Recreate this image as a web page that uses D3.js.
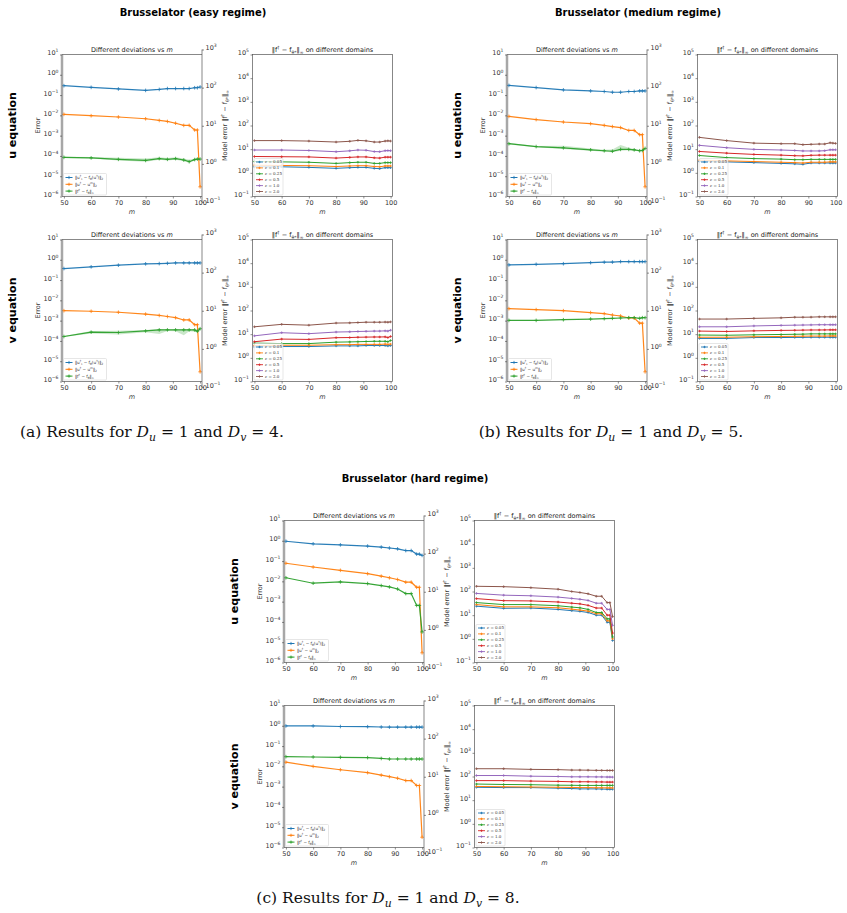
<!DOCTYPE html>
<html>
<head>
<meta charset="utf-8">
<script src="https://cdn.jsdelivr.net/npm/d3@7"></script>
<style>
  body { margin: 0; background: #fff; }
  svg { display: block; font-family: "DejaVu Sans", sans-serif; }
  .tick text { fill: #333; font-size: 6.5px; font-family: "DejaVu Sans", sans-serif; }
  .tick line { stroke: #444; stroke-width: 0.6; }
  .axis path { display: none; }
</style>
</head>
<body>
<svg id="fig" width="847" height="913"></svg>
<script>
// ---- data ----
const mVals = [50, 60, 70, 80, 85, 88, 91, 94, 96, 98, 99, 100];
const xTicks = [50, 60, 70, 80, 90, 100];
const devColors = ["#1f77b4", "#ff7f0e", "#2ca02c"];
const epsColors = ["#1f77b4", "#ff7f0e", "#2ca02c", "#d62728", "#9467bd", "#8c564b"];
const epsValues = ["0.05", "0.1", "0.25", "0.5", "1.0", "2.0"];

// left panels: [residual, interpolation, fit] per row
const easyU_dev = [
  [0.29, 0.24, 0.20, 0.17, 0.19, 0.21, 0.21, 0.21, 0.21, 0.23, 0.23, 0.25],
  [0.0112, 0.0096, 0.0083, 0.0068, 0.0056, 0.005, 0.0041, 0.0032, 0.0032, 0.0019, 0.0019, 3e-6],
  [8.5e-5, 8e-5, 6.8e-5, 6e-5, 7.4e-5, 6.8e-5, 7.4e-5, 6.3e-5, 5.2e-5, 6.6e-5, 7e-5, 7e-5]
];
const easyV_dev = [
  [0.37, 0.45, 0.54, 0.63, 0.65, 0.67, 0.7, 0.7, 0.7, 0.7, 0.7, 0.7],
  [0.0031, 0.0029, 0.0026, 0.0021, 0.0018, 0.0016, 0.0014, 0.00108, 0.00108, 0.00063, 0.00063, 3e-6],
  [1.65e-4, 2.7e-4, 2.6e-4, 3.1e-4, 3.5e-4, 3.5e-4, 3.5e-4, 3.5e-4, 3.5e-4, 3.5e-4, 3e-4, 4e-4]
];
const mediumU_dev = [
  [0.3, 0.235, 0.18, 0.16, 0.15, 0.138, 0.138, 0.15, 0.15, 0.16, 0.16, 0.16],
  [0.0089, 0.0062, 0.0047, 0.0039, 0.0032, 0.0028, 0.0025, 0.0018, 0.0018, 0.00112, 0.00112, 3e-6],
  [4e-4, 2.9e-4, 2.5e-4, 2.0e-4, 1.8e-4, 1.7e-4, 2.1e-4, 2.1e-4, 2e-4, 1.8e-4, 1.85e-4, 2.35e-4]
];
const mediumV_dev = [
  [0.56, 0.6, 0.64, 0.72, 0.76, 0.77, 0.81, 0.81, 0.81, 0.81, 0.81, 0.81],
  [0.0039, 0.0035, 0.0031, 0.0025, 0.0022, 0.0019, 0.0017, 0.00135, 0.00135, 0.00075, 0.00075, 3e-6],
  [0.00103, 0.00103, 0.00111, 0.0012, 0.00125, 0.0013, 0.00135, 0.0014, 0.0014, 0.0013, 0.0014, 0.0014]
];
const hardU_dev = [
  [0.95, 0.71, 0.63, 0.55, 0.49, 0.44, 0.4, 0.33, 0.33, 0.22, 0.22, 0.19],
  [0.078, 0.051, 0.035, 0.024, 0.018, 0.015, 0.0123, 0.0091, 0.0091, 0.0051, 0.0051, 3e-6],
  [0.015, 0.0081, 0.0094, 0.0078, 0.0062, 0.0053, 0.0042, 0.0025, 0.0025, 0.00065, 0.00065, 3.2e-5]
];
const hardV_dev = [
  [0.98, 0.98, 0.92, 0.9, 0.87, 0.86, 0.86, 0.86, 0.86, 0.86, 0.86, 0.86],
  [0.016, 0.01, 0.0068, 0.0049, 0.0037, 0.0031, 0.0026, 0.002, 0.002, 0.00114, 0.00114, 3.2e-6],
  [0.030, 0.029, 0.028, 0.027, 0.0245, 0.023, 0.023, 0.023, 0.023, 0.023, 0.023, 0.023]
];

// shaded spread of the fit curve (green) where it is visible: [low, high]
const easyU_fitBand = [
  [8e-5, 7.5e-5, 6e-5, 5.2e-5, 6.5e-5, 6e-5, 6.5e-5, 5.5e-5, 4.8e-5, 6e-5, 6.5e-5, 6.5e-5],
  [9e-5, 8.8e-5, 8.2e-5, 7.5e-5, 8.5e-5, 8e-5, 8.5e-5, 7.5e-5, 6.5e-5, 7.5e-5, 7.5e-5, 7.5e-5]
];
const easyV_fitBand = [
  [1.55e-4, 2.3e-4, 2.1e-4, 2.7e-4, 2.2e-4, 3.1e-4, 3e-4, 1.9e-4, 3e-4, 2.8e-4, 2.6e-4, 3.6e-4],
  [1.75e-4, 3.1e-4, 3.2e-4, 3.5e-4, 3.9e-4, 3.8e-4, 3.8e-4, 3.8e-4, 3.8e-4, 3.7e-4, 3.3e-4, 4.3e-4]
];
const mediumU_fitBand = [
  [3.7e-4, 2.7e-4, 2.2e-4, 1.8e-4, 1.6e-4, 1.5e-4, 1.8e-4, 1.9e-4, 1.8e-4, 1.7e-4, 1.75e-4, 2.2e-4],
  [4.3e-4, 3.1e-4, 3.2e-4, 2.3e-4, 2.0e-4, 2.1e-4, 3.5e-4, 2.5e-4, 2.2e-4, 2.0e-4, 2.0e-4, 2.5e-4]
];

// right panels: one curve per epsilon (0.05 ... 2.0)
const easyU_dom = [
  [1.8, 1.8, 1.7, 1.55, 1.65, 1.7, 1.7, 1.55, 1.5, 1.65, 1.65, 1.65],
  [2.1, 2.05, 2.0, 1.85, 1.95, 2.0, 2.0, 1.85, 1.8, 1.95, 1.95, 1.95],
  [3.0, 2.9, 2.8, 2.5, 2.7, 2.8, 2.8, 2.5, 2.5, 2.7, 2.7, 2.7],
  [4.9, 4.8, 4.7, 4.2, 4.5, 4.7, 4.7, 4.3, 4.2, 4.6, 4.6, 4.6],
  [9.2, 9.2, 8.8, 7.8, 8.5, 9.2, 9.0, 7.9, 7.8, 8.6, 8.7, 8.6],
  [23, 23, 22, 20, 21.5, 23.5, 22.5, 20, 20, 22, 22.5, 22]
];
const easyV_dom = [
  [2.9, 3.0, 3.0, 3.2, 3.2, 3.2, 3.3, 3.3, 3.3, 3.3, 3.2, 3.3],
  [3.3, 3.4, 3.4, 3.6, 3.6, 3.7, 3.7, 3.7, 3.7, 3.8, 3.7, 3.8],
  [4.2, 4.0, 4.0, 4.6, 4.7, 4.8, 4.9, 5.0, 5.0, 5.0, 4.8, 5.4],
  [4.8, 6.2, 6.0, 7.1, 7.2, 7.4, 7.5, 7.6, 7.6, 7.7, 7.2, 8.0],
  [8.5, 11.5, 10.5, 12.3, 12.6, 13, 13.2, 13.5, 13.5, 13.8, 13.5, 14.7],
  [20.5, 26, 24, 29.5, 30, 31, 32, 32, 32, 32.5, 32, 33]
];
const mediumU_dom = [
  [3.0, 2.9, 2.7, 2.5, 2.4, 2.3, 2.6, 2.6, 2.6, 2.6, 2.6, 2.6],
  [3.4, 3.2, 3.0, 2.8, 2.7, 2.6, 2.8, 2.8, 2.8, 2.9, 2.9, 2.9],
  [5.4, 4.4, 4.0, 3.8, 3.6, 3.6, 3.7, 3.7, 3.7, 3.7, 3.7, 3.7],
  [8.0, 6.8, 6.0, 5.6, 5.3, 5.2, 5.5, 5.6, 5.6, 5.6, 5.6, 5.6],
  [14.5, 11.5, 9.8, 9.2, 8.8, 8.4, 8.4, 8.4, 8.6, 9.4, 9.4, 9.4],
  [31.5, 23, 18, 17, 17, 15.5, 16, 16.5, 16.5, 18.6, 18, 17.5]
];
const mediumV_dom = [
  [6.6, 6.6, 7.2, 7.2, 7.3, 7.3, 7.4, 7.4, 7.4, 7.4, 7.4, 7.4],
  [7.4, 7.4, 7.8, 8.0, 8.1, 8.2, 8.3, 8.3, 8.3, 8.4, 8.4, 8.4],
  [9.2, 9.0, 9.4, 9.7, 9.9, 10.0, 10.3, 10.3, 10.3, 10.3, 10.3, 10.3],
  [13.5, 13.0, 13.8, 14.4, 14.6, 14.8, 15, 15, 15.1, 15.2, 15.2, 15.2],
  [20.5, 20.5, 22.3, 23.5, 24, 24.3, 24.6, 25, 25, 25, 25, 25],
  [43.5, 43.5, 46.5, 49, 52, 52, 52.5, 54, 54, 54, 54, 54]
];
const hardU_dom = [
  [24, 19.5, 20, 17.5, 15.5, 14.5, 13, 10, 10, 5, 5, 0.85],
  [28, 22.5, 22.5, 20.5, 18, 16.5, 14.8, 11.5, 11.5, 5.8, 5.8, 1.0],
  [34, 28, 28, 25, 22, 20.5, 17.5, 13, 13, 7, 7, 1.2],
  [50, 41, 40, 36, 32, 30, 26, 20, 20, 10, 10, 1.75],
  [83, 70, 66, 58, 51, 47, 42, 32, 32, 17.5, 17.5, 3.7],
  [166, 160, 145, 125, 100, 91, 80, 63, 63, 34, 34, 8.7]
];
const hardV_dom = [
  [35, 34, 34, 32, 31, 30, 30, 30, 29.5, 29, 29, 29],
  [38, 37, 36, 35, 34.5, 34, 34, 33.5, 33.5, 33, 33, 33],
  [48, 46, 45, 43, 42.5, 42, 42, 42, 42, 42, 42, 42],
  [67, 67, 64, 62, 60, 60, 60, 59, 59, 58, 58, 58],
  [110, 110, 103, 100, 97, 97, 97, 96, 96, 95, 95, 94],
  [213, 213, 200, 195, 187, 187, 185, 182, 181, 180, 180, 180]
];

// ---- text helpers ----
// parts: [string, flags] with flags containing "sup", "sub", "i"
function rich(text, parts, fs) {
  let shift = 0;
  parts.forEach(function (p) {
    const s = p[0], f = p[1] || "";
    const target = f.includes("sup") ? -0.42 * fs : f.includes("sub") ? 0.28 * fs : 0;
    const ts = text.append("tspan").text(s).attr("dy", target - shift);
    if (f.includes("sup") || f.includes("sub")) ts.attr("font-size", 0.7 * fs);
    if (f.includes("i")) ts.attr("font-style", "italic");
    shift = target;
  });
}

function decadeLabel(sel) {
  sel.each(function (d) {
    const t = d3.select(this).text(null);
    const e = Math.round(Math.log10(d));
    rich(t, [["10"], [e < 0 ? "\u2212" + (-e) : String(e), "sup"]], 6.5);
  });
}

const modelErr = [["\u2016f"], ["\u2020", "sup"], [" \u2212 f"], ["\u03b8*", "sub"], ["\u2016"], ["\u221e", "sub"]];
const devLabels = [
  [["\u2016u"], ["\u2020", "sup"], ["t", "sub"], [" \u2212 f"], ["\u03b8", "sub"], ["(u"], ["\u2020", "sup"], [")\u2016"], ["2", "sub"]],
  [["\u2016u"], ["\u2020", "sup"], [" \u2212 u"], ["m", "sup"], ["\u2016"], ["2", "sub"]],
  [["\u2016f"], ["\u2020", "sup"], [" \u2212 f"], ["\u03b8", "sub"], ["\u2016"], ["\u221e", "sub"]]
];

// ---- layout ----
const L = { x0: 62, x1: 202 }, R = { x0: 252.5, x1: 392.5 };
const yTop = 54.5, yBot = 196.5, twinTop = 49.5, twinBot = 202, rowGap = 185;

const svg = d3.select("#fig");
svg.append("rect").attr("width", 847).attr("height", 913).attr("fill", "#fff");

function addPlus(g, pts, color, r) {
  g.selectAll(null).data(pts).enter().append("path")
    .attr("d", function (d) { return "M" + (d[0] - r) + "," + d[1] + "h" + 2 * r + "M" + d[0] + "," + (d[1] - r) + "v" + 2 * r; })
    .attr("stroke", color).attr("stroke-width", 0.8).attr("fill", "none");
}

function frame(g, x0, x1) {
  g.append("rect").attr("x", x0).attr("y", yTop).attr("width", x1 - x0).attr("height", yBot - yTop)
    .attr("fill", "none").attr("stroke", "#555").attr("stroke-width", 0.7);
}

function xAxis(g, x, cx) {
  g.append("g").attr("class", "axis").attr("transform", "translate(0," + yBot + ")")
    .call(d3.axisBottom(x).tickValues(xTicks).tickSize(2).tickPadding(1.5));
  const t = g.append("text").attr("x", cx).attr("y", yBot + 17).attr("text-anchor", "middle")
    .attr("font-size", 6.5).attr("fill", "#333");
  rich(t, [["m", "i"]], 6.5);
}

function drawRow(g, row) {
  const xl = d3.scaleLinear().domain([49.3, 100.7]).range([L.x0, L.x1]);
  const xr = d3.scaleLinear().domain([49.3, 100.7]).range([R.x0, R.x1]);
  const yl = d3.scaleLog().domain([1e-6, 10]).range([yBot, yTop]);
  const yt = d3.scaleLog().domain([0.1, 1000]).range([twinBot, twinTop]);
  const yr = d3.scaleLog().domain([0.1, 1e5]).range([yBot, yTop]);

  // ---------- left panel ----------
  g.append("rect").attr("x", L.x0 - 1.5).attr("y", yTop).attr("width", 3).attr("height", yBot - yTop)
    .attr("fill", "#d4d4d4");
  if (row.band) {
    const area = d3.area().x(function (d, i) { return xl(mVals[i]); })
      .y0(function (d) { return yl(d[0]); }).y1(function (d) { return yl(d[1]); });
    g.append("path").datum(d3.zip(row.band[0], row.band[1])).attr("d", area)
      .attr("fill", devColors[2]).attr("opacity", 0.25);
  }
  row.dev.forEach(function (vals, k) {
    const line = d3.line().x(function (d, i) { return xl(mVals[i]); }).y(function (d) { return yl(d); });
    g.append("path").datum(vals).attr("d", line).attr("fill", "none")
      .attr("stroke", devColors[k]).attr("stroke-width", 1.2).attr("opacity", 0.95);
    addPlus(g, vals.map(function (v, i) { return [xl(mVals[i]), yl(v)]; }), devColors[k], 1.8);
  });
  g.append("path").attr("d", "M" + L.x0 + "," + yBot + "V" + yTop + "H" + L.x1)
    .attr("fill", "none").attr("stroke", "#555").attr("stroke-width", 0.7);
  g.append("line").attr("x1", L.x0).attr("x2", L.x1).attr("y1", yBot).attr("y2", yBot)
    .attr("stroke", "#555").attr("stroke-width", 0.7);
  g.append("line").attr("x1", L.x1).attr("x2", L.x1).attr("y1", twinTop).attr("y2", twinBot)
    .attr("stroke", "#555").attr("stroke-width", 0.7);

  xAxis(g, xl, (L.x0 + L.x1) / 2);
  g.append("g").attr("class", "axis").attr("transform", "translate(" + L.x0 + ",0)")
    .call(d3.axisLeft(yl).tickValues(d3.range(-6, 2).map(function (e) { return Math.pow(10, e); }))
      .tickSize(2).tickPadding(1.5))
    .selectAll(".tick text").call(decadeLabel);
  g.append("g").attr("class", "axis").attr("transform", "translate(" + L.x1 + ",0)")
    .call(d3.axisRight(yt).tickValues([0.1, 1, 10, 100, 1000]).tickSize(2).tickPadding(1.5))
    .selectAll(".tick text").call(decadeLabel);

  const t1 = g.append("text").attr("x", (L.x0 + L.x1) / 2).attr("y", yTop - 2.5)
    .attr("text-anchor", "middle").attr("font-size", 6.5).attr("fill", "#222");
  rich(t1, [["Different deviations vs "], ["m", "i"]], 6.5);
  g.append("text").attr("transform", "translate(" + (L.x0 + 2 - 24) + "," + ((yTop + yBot) / 2) + ") rotate(-90)")
    .attr("text-anchor", "middle").attr("font-size", 6.5).attr("fill", "#333").text("Error");
  const t2 = g.append("text").attr("transform", "translate(" + (L.x1 + 25) + "," + ((yTop + yBot) / 2) + ") rotate(-90)")
    .attr("text-anchor", "middle").attr("font-size", 6.5).attr("fill", "#333");
  rich(t2, [["Model error "]].concat(modelErr), 6.5);

  // legend
  const lg = g.append("g").attr("transform", "translate(" + (L.x0 + 1.5) + "," + (yBot - 23) + ")");
  lg.append("rect").attr("width", 43).attr("height", 21.5).attr("rx", 1)
    .attr("fill", "#fff").attr("fill-opacity", 0.8).attr("stroke", "#ccc").attr("stroke-width", 0.5);
  devLabels.forEach(function (lab, k) {
    const yy = 4 + k * 6.8;
    lg.append("line").attr("x1", 2).attr("x2", 9).attr("y1", yy).attr("y2", yy)
      .attr("stroke", devColors[k]).attr("stroke-width", 1);
    addPlus(lg, [[5.5, yy]], devColors[k], 1.6);
    const tt = lg.append("text").attr("x", 11.5).attr("y", yy + 1.5).attr("font-size", 4.2).attr("fill", "#333");
    rich(tt, lab, 4.2);
  });

  // ---------- right panel ----------
  row.dom.forEach(function (vals, k) {
    const line = d3.line().x(function (d, i) { return xr(mVals[i]); }).y(function (d) { return yr(d); });
    g.append("path").datum(vals).attr("d", line).attr("fill", "none")
      .attr("stroke", epsColors[k]).attr("stroke-width", 1);
    addPlus(g, vals.map(function (v, i) { return [xr(mVals[i]), yr(v)]; }), epsColors[k], 1.3);
  });
  frame(g, R.x0, R.x1);
  xAxis(g, xr, (R.x0 + R.x1) / 2);
  g.append("g").attr("class", "axis").attr("transform", "translate(" + R.x0 + ",0)")
    .call(d3.axisLeft(yr).tickValues(d3.range(-1, 6).map(function (e) { return Math.pow(10, e); }))
      .tickSize(2).tickPadding(1.5))
    .selectAll(".tick text").call(decadeLabel);
  const t3 = g.append("text").attr("x", (R.x0 + R.x1) / 2).attr("y", yTop - 2.5)
    .attr("text-anchor", "middle").attr("font-size", 6.5).attr("fill", "#222");
  rich(t3, modelErr.concat([[" on different domains"]]), 6.5);

  const rg = g.append("g").attr("transform", "translate(" + (R.x0 + 1.5) + "," + (yBot - 38) + ")");
  rg.append("rect").attr("width", 29).attr("height", 36.5).attr("rx", 1)
    .attr("fill", "#fff").attr("fill-opacity", 0.8).attr("stroke", "#ccc").attr("stroke-width", 0.5);
  epsValues.forEach(function (v, k) {
    const yy = 3.5 + k * 5.9;
    rg.append("line").attr("x1", 2).attr("x2", 9).attr("y1", yy).attr("y2", yy)
      .attr("stroke", epsColors[k]).attr("stroke-width", 0.9);
    addPlus(rg, [[5.5, yy]], epsColors[k], 1.2);
    const tt = rg.append("text").attr("x", 11).attr("y", yy + 1.4).attr("font-size", 4)
      .attr("fill", "#333").attr("font-family", "DejaVu Serif");
    rich(tt, [["\u03b5", "i"], [" = " + v]], 4);
  });

  // row label
  g.append("text").attr("transform", "translate(12," + ((yTop + yBot) / 2) + ") rotate(-90)")
    .attr("text-anchor", "middle").attr("dominant-baseline", "central")
    .attr("font-size", 11).attr("font-weight", "bold").attr("fill", "#000").text(row.label);
}

const regimes = [
  { title: "Brusselator (easy regime)", dx: 0, dy: 0,
    rows: [{ label: "u equation", dev: easyU_dev, dom: easyU_dom, band: easyU_fitBand },
           { label: "v equation", dev: easyV_dev, dom: easyV_dom, band: easyV_fitBand }] },
  { title: "Brusselator (medium regime)", dx: 445, dy: 0,
    rows: [{ label: "u equation", dev: mediumU_dev, dom: mediumU_dom, band: mediumU_fitBand },
           { label: "v equation", dev: mediumV_dev, dom: mediumV_dom }] },
  { title: "Brusselator (hard regime)", dx: 222, dy: 466,
    rows: [{ label: "u equation", dev: hardU_dev, dom: hardU_dom },
           { label: "v equation", dev: hardV_dev, dom: hardV_dom }] }
];

regimes.forEach(function (rg) {
  const g = svg.append("g").attr("transform", "translate(" + rg.dx + "," + rg.dy + ")");
  g.append("text").attr("x", 193).attr("y", 16).attr("text-anchor", "middle")
    .attr("font-size", 10).attr("font-weight", "bold").attr("fill", "#000").text(rg.title);
  rg.rows.forEach(function (row, r) {
    drawRow(g.append("g").attr("transform", "translate(0," + r * rowGap + ")"), row);
  });
});

// captions
const captions = [
  { tag: "(a)", dv: "4", x: 152, y: 437 },
  { tag: "(b)", dv: "5", x: 611, y: 437 },
  { tag: "(c)", dv: "8", x: 388, y: 903 }
];
captions.forEach(function (c) {
  const t = svg.append("text").attr("x", c.x).attr("y", c.y).attr("text-anchor", "middle")
    .attr("font-size", 15.5).attr("font-family", "DejaVu Serif").attr("fill", "#111");
  rich(t, [[c.tag + " Results for "], ["D", "i"], ["u", "sub i"], [" = 1 and "], ["D", "i"], ["v", "sub i"], [" = " + c.dv + "."]], 15.5);
});
</script>
</body>
</html>
